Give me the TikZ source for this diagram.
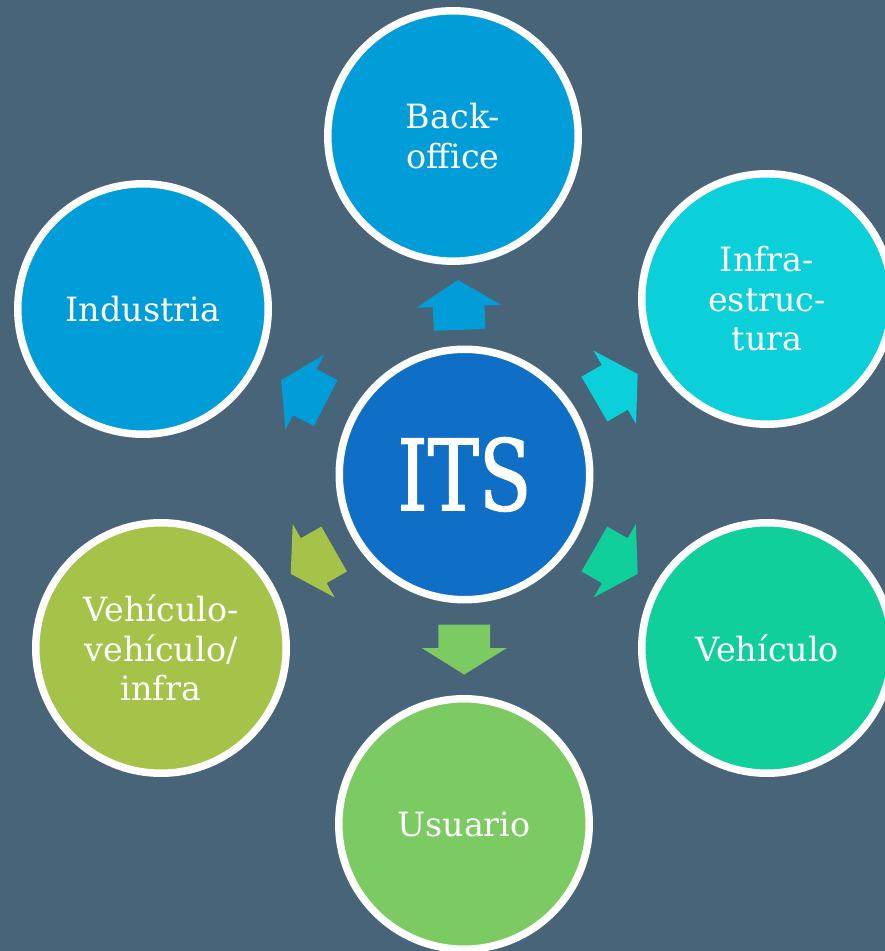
\documentclass[tikz,border=0pt]{standalone}
\usepackage{fontspec}
\setmainfont{DejaVu Serif}
\newfontfamily\itsfont[FakeStretch=0.78, FakeBold=1.2]{DejaVu Serif}
\usetikzlibrary{shapes.arrows, calc}

\definecolor{bgslate}{HTML}{476479}
\definecolor{cIts}{HTML}{0F6FC6}
\definecolor{cBack}{HTML}{009DD9}
\definecolor{cInfra}{HTML}{0BD0D9}
\definecolor{cVeh}{HTML}{10CF9B}
\definecolor{cUsu}{HTML}{7CCA62}
\definecolor{cVv}{HTML}{A5C249}

\begin{document}
\begin{tikzpicture}[x=0.02cm, y=0.02cm,
	bubble/.style={circle, fill=#1, draw=white, line width=0.15cm, minimum size=5.01cm, inner sep=0, text=white, align=center, font=\fontsize{19}{22.5}\selectfont},
	blockarrow/.style={single arrow, fill=#1, anchor=tail, inner xsep=0, inner ysep=0.51cm, minimum height=1.0cm, single arrow head extend=0.33cm, single arrow tip angle=116, single arrow head indent=0}]
	\def\W{885}
	\def\H{951}

	\useasboundingbox (0,0) rectangle (\W,\H);
	\clip (0,0) rectangle (\W,\H);
	\fill[bgslate] (0,0) rectangle (\W,\H);

	% centre and the six around it
	\node[bubble=cIts, font=\itsfont\fontsize{56}{60}\selectfont] (its) at (464.5,476.5) {ITS};
	\node[bubble=cBack]  (back)  at (453,815) {Back-\\office};
	\node[bubble=cInfra] (infra) at (767,652) {Infra-\\estruc-\\tura};
	\node[bubble=cVeh]   (veh)   at (767,303) {Vehículo};
	\node[bubble=cUsu]   (usu)   at (464,127) {Usuario};
	\node[bubble=cVv]    (vv)    at (161,303) {Vehículo-\\vehículo/\\infra};
	\node[bubble=cBack]  (ind)   at (143,642) {Industria};

	% arrows half way between, tail 0.5cm back from the middle
	\path let \p1=($(back)-(its)$), \n1={atan2(\y1,\x1)} in
		node[blockarrow=cBack, rotate=\n1] (aback) at ($(its)!0.5!(back)!0.5cm!(its)$) {};
	\path let \p1=($(infra)-(its)$), \n1={atan2(\y1,\x1)} in
		node[blockarrow=cInfra, rotate=\n1] (ainfra) at ($(its)!0.5!(infra)!0.5cm!(its)$) {};
	\path let \p1=($(veh)-(its)$), \n1={atan2(\y1,\x1)} in
		node[blockarrow=cVeh, rotate=\n1] (aveh) at ($(its)!0.5!(veh)!0.5cm!(its)$) {};
	\path let \p1=($(usu)-(its)$), \n1={atan2(\y1,\x1)} in
		node[blockarrow=cUsu, rotate=\n1] (ausu) at ($(its)!0.5!(usu)!0.5cm!(its)$) {};
	\path let \p1=($(vv)-(its)$), \n1={atan2(\y1,\x1)} in
		node[blockarrow=cVv, rotate=\n1] (avv) at ($(its)!0.5!(vv)!0.5cm!(its)$) {};
	\path let \p1=($(ind)-(its)$), \n1={atan2(\y1,\x1)} in
		node[blockarrow=cBack, rotate=\n1] (aind) at ($(its)!0.5!(ind)!0.5cm!(its)$) {};
\end{tikzpicture}
\end{document}
